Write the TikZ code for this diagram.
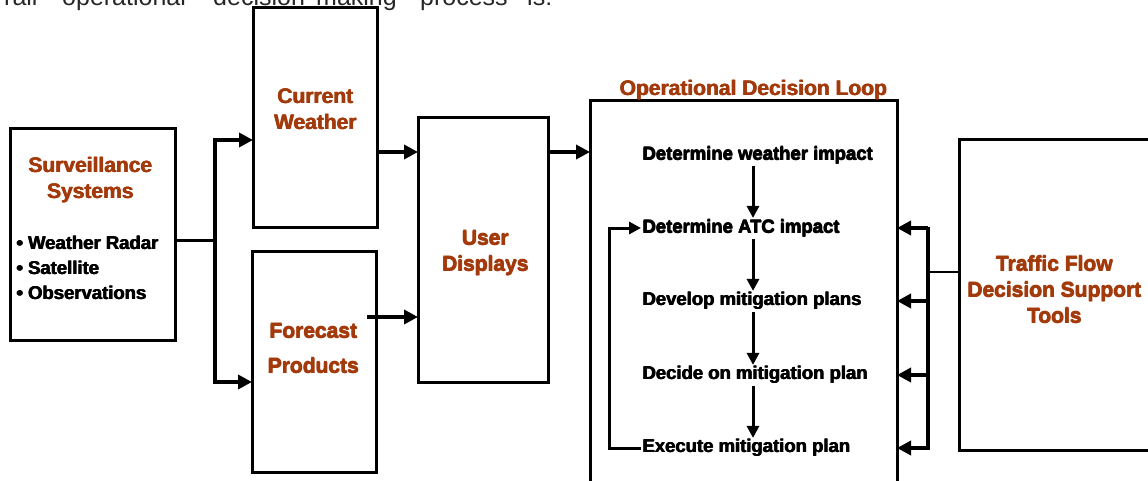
\documentclass[tikz,border=0pt]{standalone}
\usepackage{fontspec}
\setmainfont{Liberation Sans}
\usetikzlibrary{arrows.meta,calc}
\definecolor{rust}{HTML}{A33A0B}
\newcommand\hv[1]{\leavevmode\rlap{\kern0.8pt#1}\rlap{\raisebox{0.45pt}{\kern0.4pt#1}}#1}
\tikzset{
  box/.style={draw, line width=3pt, inner sep=0pt, outer sep=0pt},
  arr/.style={line width=3.5pt, -{Triangle[length=14pt,width=14pt]}},
  varr/.style={line width=3pt, -{Triangle[length=12pt,width=12pt]}},
  thinline/.style={line width=2pt},
  ttl/.style={text=rust, font=\bfseries\fontsize{21}{26}\selectfont, align=center, inner sep=0pt},
  item/.style={font=\bfseries\fontsize{18.5}{25}\selectfont, inner sep=1pt, anchor=west},
  captext/.style={font=\fontsize{25}{28}\selectfont, anchor=base west, inner sep=0pt, text=black!85}
}
\begin{document}
\begin{tikzpicture}[x=1pt,y=-1pt]
\useasboundingbox (0,0) rectangle (1148,481);
\clip (0,0) rectangle (1148,481);
% cropped caption line
\node[captext] (c1) at (4,6) {rall};
\node[captext] (c2) at (62,6) {operational};
\node[captext] (c3) at (213,6) {decision};
\node[captext] (c4) at (316,6) {making};
\node[captext] (c5) at (420,6) {process};
\node[captext] (c6) at (527,6) {is:};
% boxes
\node[box, minimum width=165pt, minimum height=211pt] (sv) at (92.5,234.5) {};
\node[box, minimum width=124pt, minimum height=219pt] (cw) at (315,117.5) {};
\node[box, minimum width=124pt, minimum height=221pt] (fp) at (314,361.5) {};
\node[box, minimum width=130pt, minimum height=264pt] (ud) at (483,250) {};
\node[box, minimum width=307pt, minimum height=419pt] (op) at (743.5,310.5) {};
\node[box, minimum width=206pt, minimum height=310pt] (tf) at (1062,295) {};
% titles
\node[ttl] (svt) at (90,180) {\hv{Surveillance}\\\hv{Systems}};
\node[item, align=left] (svl) at (15,268) {\hv{• Weather Radar}\\\hv{• Satellite}\\\hv{• Observations}};
\node[ttl] (cwt) at (315,109) {\hv{Current}\\\hv{Weather}};
\node[ttl, font=\bfseries\fontsize{21}{35}\selectfont] (fpt) at (313,348.5) {\hv{Forecast}\\\hv{Products}};
\node[ttl] (udt) at (485,253) {\hv{User}\\\hv{Displays}};
\node[ttl] (opt) at (753,90) {\hv{Operational Decision Loop}};
\node[ttl] (tft) at (1054,289.5) {\hv{Traffic Flow}\\\hv{Decision Support}\\\hv{Tools}};
% loop items
\node[item] (i1) at (641,155) {\hv{Determine weather impact}};
\node[item] (i2) at (641,228) {\hv{Determine ATC impact}};
\node[item] (i3) at (641,301) {\hv{Develop mitigation plans}};
\node[item] (i4) at (641,375) {\hv{Decide on mitigation plan}};
\node[item] (i5) at (641,448) {\hv{Execute mitigation plan}};
% left connectors
\coordinate (sp) at (215,240);
\draw[line width=3pt] (sv.east |- sp) -- (sp);
\draw[arr] (sp) |- (cw.west |- 0,140);
\draw[arr] (sp) |- (fp.west |- 0,382);
\draw[arr] (cw.east |- 0,152) -- (ud.west |- 0,152);
\draw[arr] ($(fp.east |- 0,317)+(-9,0)$) -- (ud.west |- 0,317);
\draw[arr] (ud.east |- 0,152) -- (op.west |- 0,152);
% loop arrows
\foreach \a/\b in {i1/i2,i2/i3,i3/i4,i4/i5}{
  \draw[varr] ($(\a.south -| 753,0)+(0,1)$) -- (\b.north -| 753,0);
}
\coordinate (lb) at (609,448);
\draw[varr] (i5.west) -- (lb) |- (i2.west);
% right connectors
\coordinate (rs) at (928,272);
\draw[thinline] (tf.west |- rs) -- (rs);
\draw[line width=3.5pt] (928,226.5) -- (928,449.5);
\foreach \y in {228,301,375,448}{
  \draw[arr] (928,\y) -- (op.east |- 0,\y);
}
\end{tikzpicture}
\end{document}
